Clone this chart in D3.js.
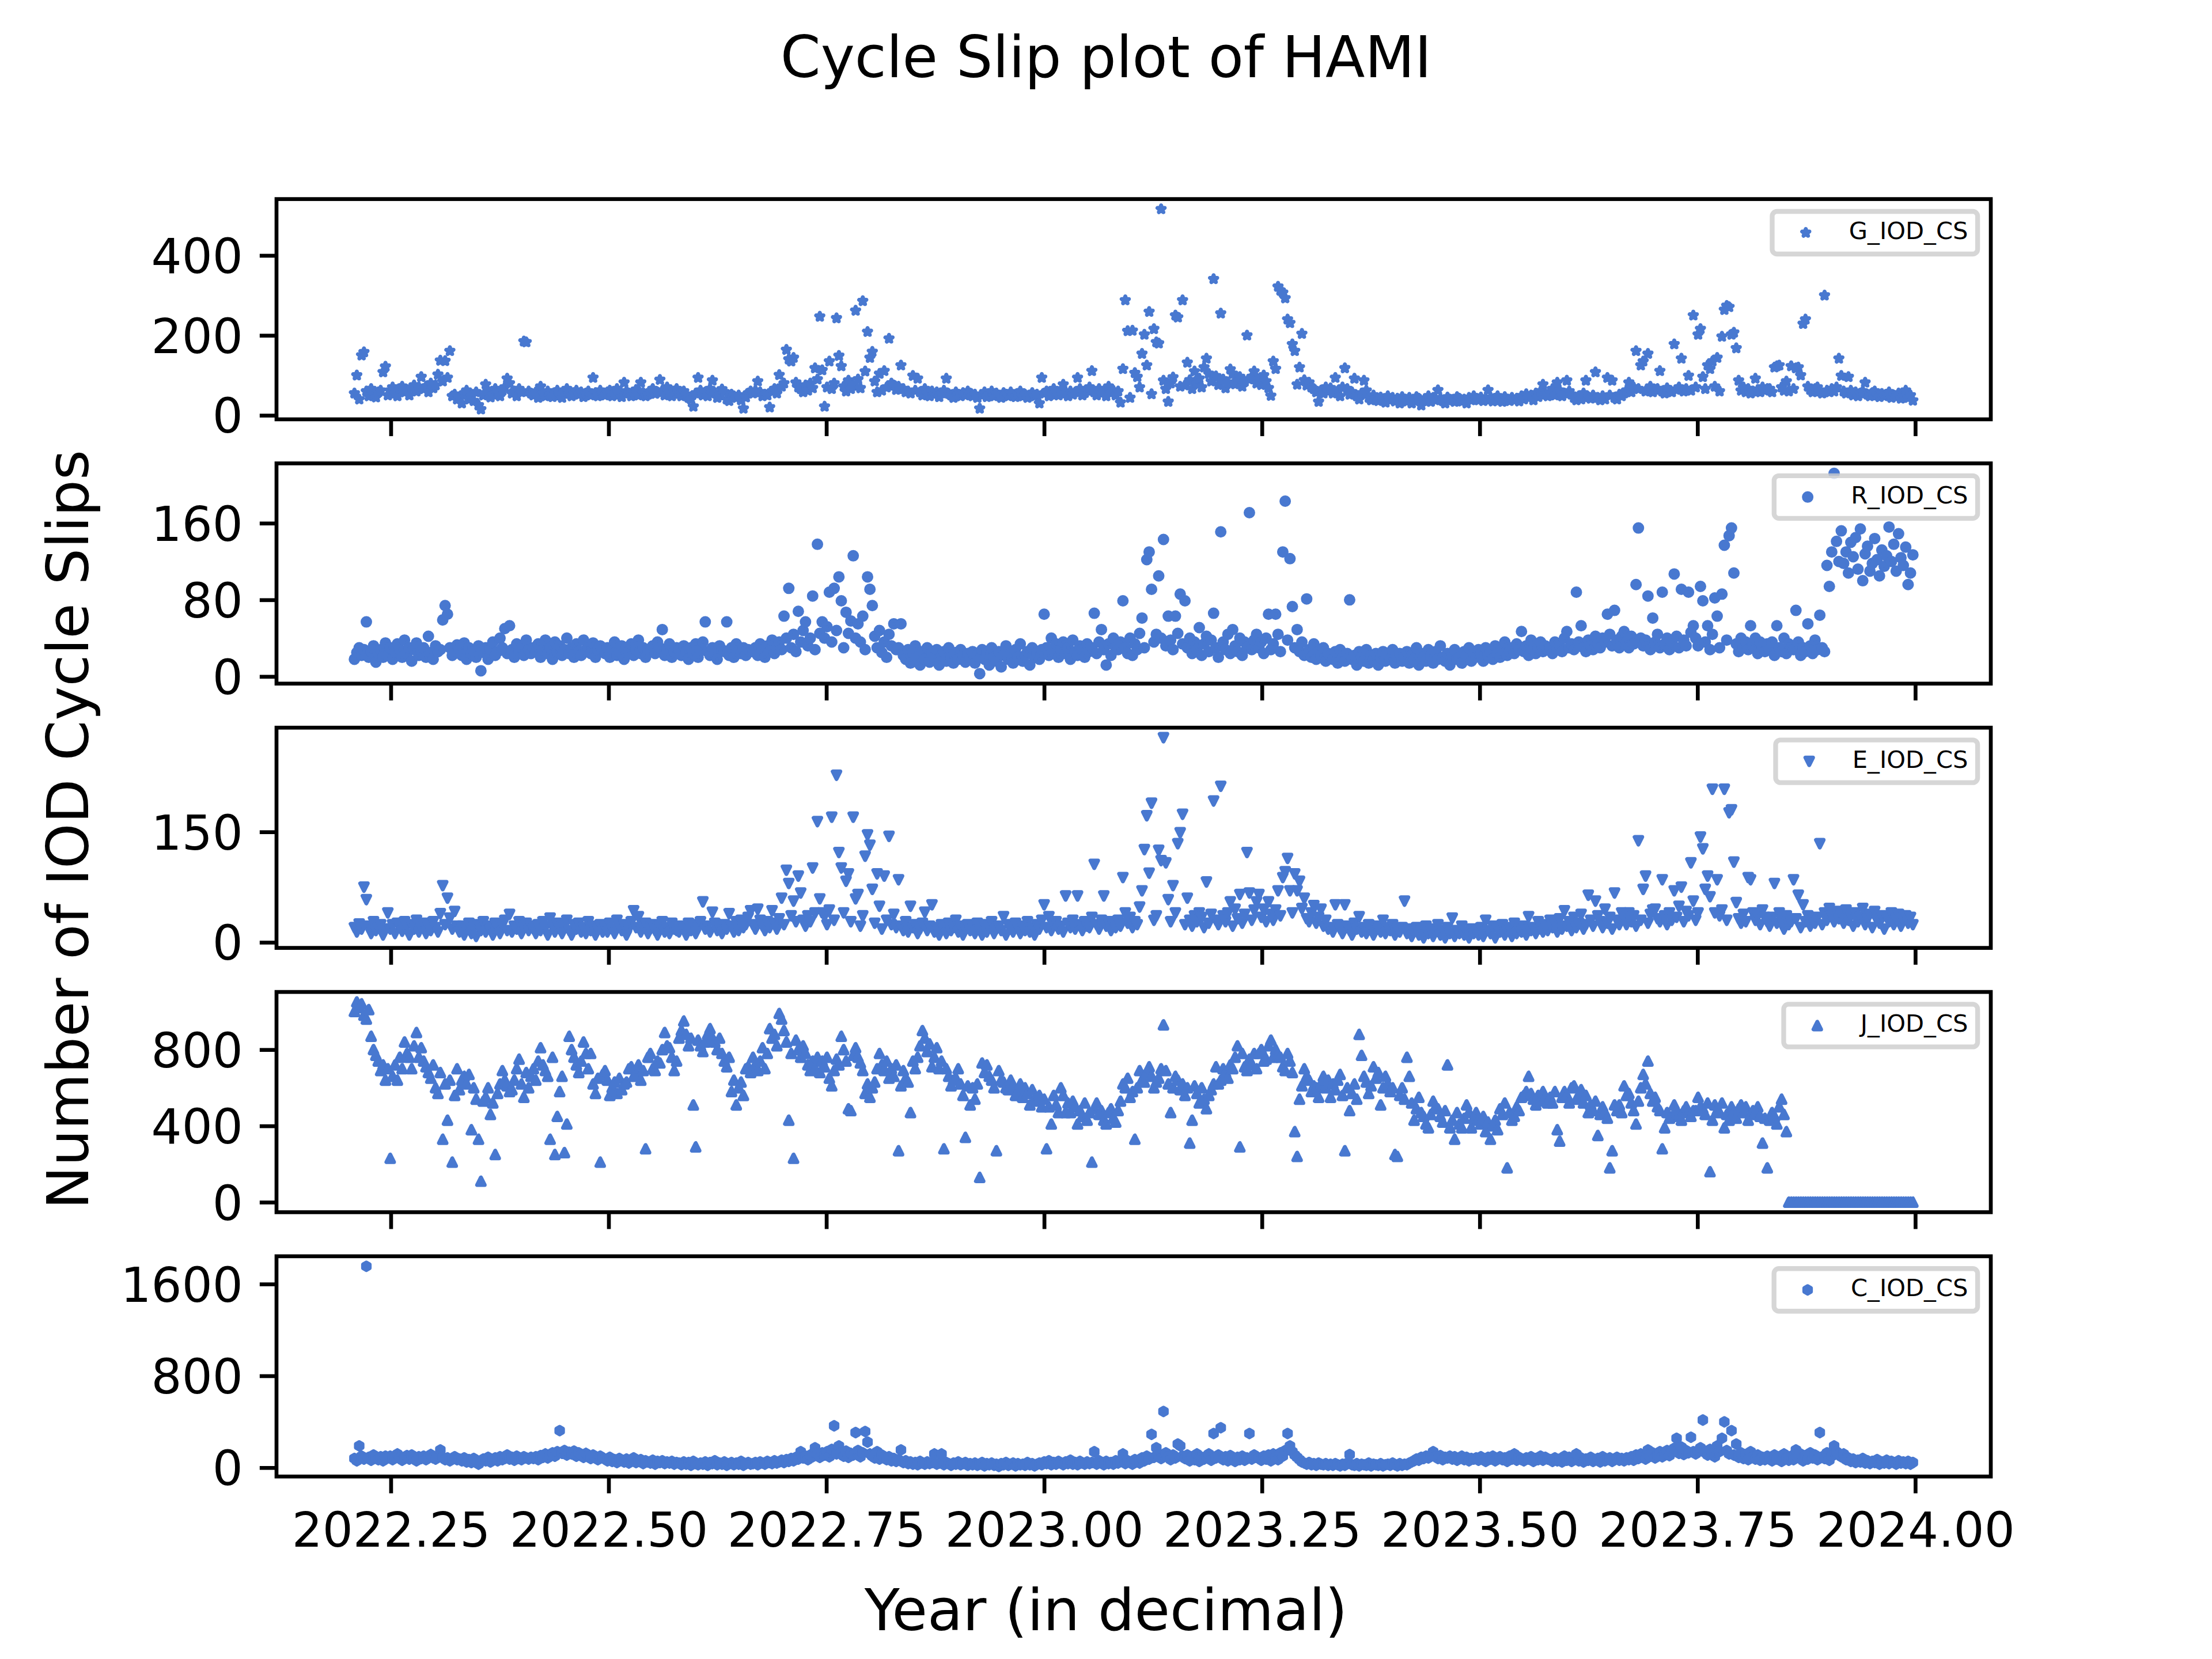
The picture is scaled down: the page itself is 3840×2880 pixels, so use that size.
<!DOCTYPE html>
<html>
<head>
<meta charset="utf-8">
<script src="https://cdn.jsdelivr.net/npm/d3@7"></script>
<style>
  html, body { margin: 0; padding: 0; background: #fff; }
  svg { display: block; }
  text { font-family: "DejaVu Sans", sans-serif; fill: #000; }
</style>
</head>
<body>
<svg id="chart" width="3840" height="2880"></svg>
<script>
// daily IOD cycle slip counts at HAMI, one value per day from startDate
var startDate = "2022-03-18";
var nDays = 654;

var xTicks = [2022.25, 2022.5, 2022.75, 2023.0, 2023.25, 2023.5, 2023.75, 2024.0];

var gValues = [
  55, 100, 40, 150, 158, 60, 48, 66, 52, 45, 58, 62, 108, 122,
  50, 62, 70, 55, 48, 66, 72, 58, 64, 50, 68, 75, 60, 70, 96, 66, 72, 58, 80, 68, 75, 102, 137, 85, 136, 94, 161, 48, 52, 40,
  44, 30, 55, 62, 40, 48, 36, 58, 25, 15, 50, 77, 60, 45, 52, 66, 58, 48, 62, 70, 92, 80, 55, 60, 48, 66, 58, 185, 183, 60, 55,
  50, 58, 44, 72, 55, 48, 60, 52, 46, 56, 62, 50, 44, 58, 66, 54, 48, 56, 62, 52, 58, 46, 55, 60, 50, 94, 56, 48, 62, 54,
  50, 58, 62, 48, 55, 66, 52, 46, 82, 60, 55, 48, 58, 64, 50, 82, 56, 48, 52, 60, 66, 54, 58, 89, 62, 50, 70, 56, 48, 60, 66,
  54, 48, 60, 52, 44, 40, 22, 55, 94, 62, 50, 58, 48, 66, 87, 56, 44, 50, 65, 58, 40, 36, 52, 48, 44, 50, 38, 17, 45, 55, 60,
  55, 62, 85, 58, 48, 52, 50, 20, 60, 66, 55, 101, 72, 80, 164, 140, 135, 144, 82, 70, 66, 58, 75, 62, 80, 68, 118, 90, 247, 113,
  22, 70, 135, 66, 80, 243, 149, 123, 72, 60, 87, 66, 74, 262, 90, 68, 286, 110, 209, 144, 159, 85, 58, 104, 62, 111, 70, 192, 80, 75, 64,
  72, 125, 66, 58, 60, 55, 99, 62, 92, 58, 50, 66, 55, 48, 60, 52, 58, 46, 55, 62, 92, 54, 50, 44, 58, 52, 48, 56, 50, 60,
  55, 48, 52, 44, 17, 50, 58, 46, 52, 60, 48, 55, 50, 44, 56, 52, 48, 58, 50, 46, 54, 60, 48, 52, 44, 50, 56, 48, 52, 30, 94,
  55, 60, 48, 52, 66, 58, 50, 62, 77, 55, 48, 60, 52, 58, 94, 66, 50, 56, 62, 70, 111, 58, 50, 66, 55, 60, 48, 72, 56, 62, 50,
  60, 32, 116, 288, 211, 44, 212, 106, 96, 70, 154, 202, 125, 259, 53, 216, 183, 180, 516, 87, 66, 34, 80, 95, 250, 245, 72, 288,
  75, 132, 88, 66, 110, 80, 92, 70, 120, 142, 104, 85, 341, 98, 76, 255, 90, 68, 82, 115, 104, 78, 88, 96, 72, 84, 200, 90, 96, 110, 80,
  90, 76, 100, 85, 68, 49, 135, 116, 322, 312, 307, 293, 240, 231, 178, 161, 77, 120, 204, 88, 75, 82, 70, 66, 58, 34, 62, 55, 70, 60,
  68, 55, 94, 60, 48, 70, 118, 66, 52, 58, 92, 48, 40, 55, 87, 62, 44, 38, 50, 42, 36, 45, 40, 32, 48, 38, 44, 35, 42, 30, 46,
  40, 35, 44, 30, 38, 46, 42, 25, 36, 40, 48, 34, 44, 38, 63, 42, 36, 30, 45, 40, 38, 34, 46, 42, 35, 40, 30, 44, 38, 48,
  42, 38, 45, 36, 40, 63, 44, 35, 42, 48, 38, 34, 46, 40, 36, 44, 38, 42, 35, 48, 40, 53, 44, 50, 38, 55, 46, 60, 77, 52, 48,
  58, 66, 50, 82, 62, 48, 55, 87, 60, 52, 44, 38, 48, 40, 55, 87, 46, 42, 50, 108, 44, 38, 48, 40, 94, 50, 87, 44, 40, 52, 48,
  55, 62, 82, 58, 70, 161, 66, 125, 135, 60, 154, 72, 58, 64, 66, 111, 60, 55, 68, 62, 58, 178, 64, 70, 142, 60, 66, 99, 62, 250,
  70, 202, 216, 96, 66, 125, 116, 135, 72, 144, 60, 197, 264, 274, 271, 202, 207, 168, 87, 62, 70, 58, 66, 55, 60, 92, 64, 58, 70, 62, 66,
  66, 58, 120, 123, 125, 70, 62, 85, 60, 123, 66, 118, 120, 100, 229, 240, 72, 64, 58, 66, 70, 60, 55, 300, 62, 58, 66, 60, 70, 142,
  99, 60, 55, 96, 62, 50, 58, 48, 55, 60, 82, 52, 48, 56, 60, 50, 46, 54, 48, 52, 58, 44, 50, 46, 55, 42, 48, 62, 44, 50, 37
];

var rValues = [
  18, 25, 30, 22, 28, 57, 20, 26, 32, 15, 24, 28, 20, 35,
  22, 30, 18, 26, 34, 28, 20, 38, 24, 30, 16, 28, 35, 22, 26, 30, 20, 42, 25, 18, 32, 26, 28, 59, 74, 65, 30, 22, 27, 33,
  28, 22, 35, 18, 30, 24, 26, 20, 32, 6, 25, 30, 18, 28, 36, 22, 26, 40, 30, 50, 24, 53, 28, 20, 34, 26, 30, 22, 38, 28, 24,
  30, 26, 34, 20, 28, 38, 24, 30, 18, 36, 26, 32, 22, 28, 40, 24, 30, 20, 34, 26, 22, 38, 28, 30, 24, 35, 20, 28, 32, 26,
  24, 30, 20, 28, 36, 22, 26, 32, 18, 30, 26, 34, 22, 28, 38, 24, 30, 20, 28, 26, 32, 24, 36, 30, 49, 22, 28, 34, 20, 26, 30,
  28, 22, 32, 26, 18, 30, 24, 34, 20, 28, 36, 57, 26, 22, 30, 24, 18, 32, 28, 26, 57, 22, 30, 20, 34, 26, 24, 30, 22, 28, 26,
  26, 30, 22, 34, 28, 20, 32, 26, 38, 24, 30, 36, 28, 63, 40, 92, 30, 44, 26, 68, 36, 48, 57, 32, 40, 84, 28, 138, 45, 57,
  40, 52, 88, 36, 92, 48, 104, 79, 30, 67, 45, 58, 126, 40, 55, 36, 63, 28, 104, 91, 74, 42, 30, 48, 25, 36, 20, 44, 32, 55, 28,
  30, 55, 22, 18, 28, 14, 25, 32, 20, 12, 26, 18, 30, 15, 24, 20, 28, 12, 22, 26, 16, 30, 20, 14, 25, 18, 28, 22, 15, 24,
  20, 26, 14, 22, 3, 28, 18, 24, 12, 30, 20, 16, 26, 10, 22, 32, 18, 24, 14, 28, 20, 34, 16, 22, 26, 12, 30, 20, 24, 18, 28,
  65, 30, 22, 40, 26, 34, 20, 28, 36, 24, 30, 18, 38, 26, 22, 32, 28, 20, 34, 26, 30, 66, 24, 36, 49, 28, 12, 34, 22, 40, 30,
  28, 36, 79, 30, 24, 40, 22, 34, 28, 45, 61, 30, 122, 130, 91, 36, 44, 105, 40, 143, 32, 63, 38, 28, 63, 45, 86, 34,
  79, 30, 40, 24, 36, 28, 51, 22, 34, 42, 26, 38, 66, 30, 20, 151, 36, 28, 44, 24, 49, 32, 26, 40, 22, 36, 30, 171, 28, 38, 44,
  30, 36, 24, 40, 65, 28, 34, 65, 44, 26, 130, 183, 38, 123, 73, 30, 49, 26, 36, 22, 81, 28, 20, 34, 18, 26, 22, 30, 16, 24,
  22, 18, 26, 14, 28, 20, 16, 24, 80, 18, 22, 12, 26, 20, 16, 28, 14, 22, 18, 24, 12, 20, 26, 16, 22, 18, 28, 14, 20, 24, 16,
  20, 26, 14, 22, 18, 30, 12, 24, 20, 16, 28, 22, 14, 26, 18, 32, 20, 16, 24, 12, 22, 28, 18, 20, 14, 26, 22, 30, 16, 24,
  20, 28, 24, 16, 30, 22, 26, 18, 32, 24, 20, 28, 36, 22, 26, 30, 24, 34, 28, 47, 26, 32, 22, 38, 28, 24, 30, 36, 26, 32, 28,
  30, 24, 36, 28, 32, 26, 40, 47, 30, 34, 28, 88, 36, 53, 30, 26, 38, 32, 28, 42, 34, 30, 40, 36, 65, 44, 32, 69, 38, 30, 42,
  47, 36, 30, 42, 34, 96, 155, 40, 32, 38, 84, 28, 61, 36, 44, 30, 88, 34, 40, 28, 36, 107, 42, 30, 91, 38, 32, 88, 46, 53,
  40, 32, 94, 79, 36, 53, 28, 44, 82, 63, 30, 86, 137, 38, 147, 155, 108, 34, 26, 40, 30, 36, 28, 53, 32, 40, 24, 36, 30, 26, 34,
  28, 36, 22, 53, 30, 26, 40, 24, 34, 30, 28, 69, 36, 22, 30, 26, 55, 32, 24, 38, 28, 64, 30, 26, 116, 94, 130, 212, 141, 120,
  152, 118, 130, 108, 140, 125, 145, 112, 154, 100, 128, 136, 110, 118, 144, 122, 105, 132, 115, 126, 156, 120, 138, 110, 149, 124, 116, 135, 96, 108, 127
];

var eValues = [
  20, 14, 25, 18, 75, 58, 22, 12, 28, 16, 20, 24, 10, 18,
  40, 18, 24, 12, 26, 20, 15, 28, 22, 10, 24, 18, 30, 14, 20, 26, 12, 22, 16, 28, 20, 14, 39, 77, 24, 60, 33, 18, 42, 22,
  14, 22, 10, 18, 26, 12, 20, 8, 24, 16, 28, 14, 22, 18, 10, 26, 20, 12, 24, 30, 16, 38, 14, 22, 18, 28, 12, 20, 26, 16, 22,
  18, 12, 24, 16, 28, 20, 10, 33, 22, 14, 26, 18, 12, 22, 30, 16, 10, 24, 18, 26, 14, 20, 12, 28, 16, 22, 10, 18, 24, 14,
  20, 14, 26, 18, 12, 30, 22, 16, 24, 10, 18, 28, 43, 20, 35, 14, 22, 26, 12, 18, 24, 16, 10, 22, 28, 14, 20, 12, 26, 18, 16,
  14, 22, 18, 10, 26, 16, 24, 12, 20, 28, 55, 18, 22, 14, 41, 26, 16, 20, 12, 24, 18, 39, 22, 14, 28, 16, 30, 20, 24, 34, 43,
  24, 18, 45, 30, 22, 16, 28, 20, 43, 26, 18, 32, 60, 24, 98, 80, 36, 56, 28, 90, 67, 30, 22, 36, 28, 101, 40, 164, 59, 40,
  36, 24, 44, 170, 30, 227, 122, 101, 40, 83, 93, 28, 170, 59, 65, 22, 36, 117, 146, 132, 72, 26, 93, 49, 18, 90, 30, 144, 24, 38, 20,
  85, 22, 16, 28, 14, 49, 20, 24, 12, 18, 26, 41, 16, 22, 51, 14, 20, 10, 24, 18, 12, 26, 16, 20, 30, 14, 22, 10, 18, 24,
  16, 22, 12, 26, 18, 10, 24, 14, 20, 28, 12, 18, 22, 16, 35, 10, 24, 18, 14, 26, 20, 12, 22, 16, 28, 14, 20, 10, 24, 18, 30,
  51, 20, 35, 16, 24, 28, 18, 22, 14, 63, 26, 20, 30, 18, 63, 24, 16, 28, 22, 20, 34, 106, 24, 18, 30, 63, 22, 28, 16, 24, 20,
  30, 22, 88, 40, 26, 34, 20, 28, 24, 48, 70, 126, 172, 94, 189, 30, 36, 125, 111, 278, 108, 58, 28, 77, 40, 134, 149, 174,
  24, 60, 30, 22, 36, 28, 40, 34, 20, 82, 26, 38, 192, 30, 24, 212, 36, 28, 40, 55, 22, 45, 32, 65, 26, 38, 122, 67, 30, 44, 55,
  65, 34, 45, 28, 55, 38, 30, 44, 70, 36, 88, 96, 114, 70, 40, 93, 70, 83, 46, 60, 32, 28, 40, 50, 26, 34, 45, 22, 30, 18,
  20, 14, 51, 24, 18, 12, 51, 22, 16, 10, 26, 18, 35, 14, 20, 12, 24, 16, 10, 22, 18, 14, 30, 12, 20, 16, 24, 10, 18, 14, 20,
  56, 12, 18, 8, 14, 20, 10, 16, 6, 22, 12, 18, 8, 14, 24, 10, 16, 6, 20, 12, 33, 8, 16, 12, 22, 10, 14, 6, 18, 12,
  14, 10, 20, 8, 30, 16, 12, 22, 6, 18, 14, 24, 10, 16, 20, 8, 26, 12, 18, 14, 22, 10, 35, 16, 20, 12, 28, 18, 14, 24, 16,
  30, 20, 26, 14, 32, 18, 43, 22, 28, 16, 34, 20, 26, 38, 18, 24, 64, 30, 22, 56, 36, 28, 20, 45, 26, 34, 18, 67, 30, 24, 40,
  34, 24, 40, 28, 36, 22, 138, 30, 72, 90, 26, 38, 44, 45, 32, 28, 85, 36, 24, 40, 30, 70, 34, 49, 75, 28, 42, 36, 108, 56,
  30, 40, 143, 127, 72, 90, 62, 208, 40, 85, 36, 44, 208, 30, 176, 180, 109, 54, 32, 26, 38, 28, 88, 85, 40, 30, 36, 24, 44, 34, 28,
  22, 34, 80, 26, 40, 30, 18, 36, 24, 28, 85, 32, 64, 20, 51, 28, 36, 22, 30, 26, 34, 134, 24, 40, 30, 46, 36, 28, 42, 32,
  38, 26, 44, 30, 36, 22, 40, 28, 34, 46, 24, 32, 38, 20, 42, 30, 26, 36, 18, 34, 28, 40, 24, 32, 38, 22, 30, 36, 26, 34, 24
];

var jValues = [
  1000, 1050, 1020, 1040, 980, 960, 1010, 870, 800, 770, 740, 690, 720, 640,
  700, 230, 660, 720, 640, 760, 700, 840, 780, 760, 700, 820, 890, 760, 810, 740, 710, 680, 650, 720, 600, 570, 680, 330, 620, 430, 640, 210, 560, 700,
  590, 640, 660, 620, 670, 380, 600, 540, 330, 110, 530, 550, 600, 460, 520, 250, 570, 620, 690, 640, 610, 580, 590, 640, 700, 750, 620, 550, 680, 600, 660,
  700, 640, 740, 810, 720, 690, 660, 330, 760, 250, 450, 580, 660, 260, 410, 870, 800, 760, 720, 680, 740, 840, 780, 700, 780, 620, 570, 650, 210, 670,
  690, 640, 560, 600, 630, 570, 650, 590, 620, 630, 700, 710, 660, 680, 720, 640, 690, 280, 760, 780, 700, 690, 740, 730, 800, 890, 820, 810, 760, 690, 740,
  860, 900, 950, 880, 820, 860, 510, 290, 850, 820, 790, 840, 880, 910, 860, 840, 800, 860, 780, 740, 710, 760, 580, 640, 510, 600, 630, 560, 700, 710, 680,
  760, 720, 690, 740, 810, 700, 780, 910, 860, 880, 820, 990, 960, 900, 840, 430, 780, 230, 850, 800, 760, 820, 780, 720, 690, 740, 700, 760, 680, 740,
  710, 760, 650, 610, 690, 750, 720, 870, 800, 740, 490, 480, 770, 810, 760, 730, 690, 570, 620, 550, 600, 630, 700, 780, 720, 690, 740, 650, 700, 660, 720,
  270, 610, 690, 650, 630, 470, 740, 700, 760, 820, 900, 860, 790, 830, 710, 760, 810, 700, 740, 280, 700, 660, 610, 640, 650, 700, 620, 560, 340, 610,
  510, 600, 540, 620, 130, 730, 680, 720, 660, 640, 600, 270, 690, 640, 630, 600, 590, 640, 610, 560, 580, 620, 550, 600, 570, 510, 590, 540, 530, 560, 500,
  540, 280, 500, 410, 560, 510, 470, 600, 560, 470, 520, 470, 530, 500, 410, 480, 450, 520, 430, 470, 210, 490, 520, 460, 480, 430, 410, 470, 490, 440, 420,
  480, 530, 620, 600, 650, 550, 580, 330, 600, 690, 640, 630, 680, 710, 660, 600, 630, 650, 700, 930, 690, 620, 470, 600, 660, 640, 590, 620,
  560, 600, 310, 430, 610, 570, 520, 600, 540, 490, 560, 590, 620, 710, 620, 640, 700, 680, 650, 720, 700, 760, 820, 290, 780, 710, 690, 750, 720, 780, 700,
  780, 800, 740, 750, 820, 850, 760, 800, 770, 760, 710, 690, 780, 740, 680, 370, 240, 540, 610, 700, 660, 640, 580, 610, 600, 550, 620, 660, 600, 640,
  550, 620, 590, 640, 670, 560, 270, 600, 480, 570, 620, 540, 880, 770, 660, 630, 570, 610, 710, 650, 680, 510, 600, 660, 620, 580, 600, 250, 240, 560, 600,
  540, 760, 660, 520, 430, 490, 550, 470, 450, 410, 390, 460, 530, 500, 490, 450, 420, 480, 720, 390, 430, 330, 470, 410, 390, 440, 510, 470, 390, 440,
  470, 430, 410, 450, 370, 420, 330, 400, 430, 380, 490, 460, 520, 180, 470, 430, 450, 500, 480, 550, 560, 580, 660, 570, 540, 510, 560, 530, 580, 550, 520,
  550, 520, 580, 380, 320, 550, 580, 560, 520, 600, 610, 540, 550, 590, 520, 560, 470, 510, 480, 530, 350, 460, 500, 470, 440, 180, 270, 510, 480, 510, 470,
  610, 560, 570, 520, 480, 410, 530, 600, 670, 620, 740, 570, 530, 550, 500, 480, 280, 390, 470, 440, 450, 510, 480, 460, 430, 480, 500, 470, 450, 480,
  480, 550, 500, 490, 460, 520, 160, 430, 510, 480, 470, 520, 390, 460, 430, 500, 470, 440, 490, 510, 470, 500, 430, 460, 480, 470, 500, 450, 310, 440, 180,
  430, 470, 450, 410, 500, 540, 460, 370, 0, 0, 0, 0, 0, 0, 0, 0, 0, 0, 0, 0, 0, 0, 0, 0, 0, 0, 0, 0, 0, 0,
  0, 0, 0, 0, 0, 0, 0, 0, 0, 0, 0, 0, 0, 0, 0, 0, 0, 0, 0, 0, 0, 0, 0, 0, 0, 0, 0, 0, 0, 0, 0
];

var cValues = [
  80, 60, 190, 100, 75, 1755, 90, 65, 110, 85, 70, 95, 60, 100,
  85, 100, 70, 95, 120, 80, 65, 90, 105, 75, 110, 85, 60, 95, 80, 100, 70, 90, 115, 85, 75, 100, 155, 90, 70, 85, 60, 80, 95, 70,
  75, 60, 85, 50, 70, 45, 80, 65, 30, 55, 75, 60, 90, 50, 70, 85, 60, 95, 70, 80, 110, 75, 90, 65, 100, 80, 70, 95, 85, 75, 90,
  80, 95, 70, 105, 90, 120, 85, 110, 130, 100, 140, 323, 125, 150, 110, 135, 120, 145, 100, 130, 115, 90, 125, 105, 80, 110, 95, 70, 100, 85,
  75, 60, 90, 55, 70, 45, 80, 65, 50, 75, 40, 60, 85, 45, 55, 70, 35, 60, 50, 40, 65, 30, 55, 45, 60, 35, 50, 40, 55, 30, 45,
  40, 25, 50, 30, 45, 20, 55, 35, 25, 40, 30, 50, 20, 45, 35, 60, 25, 40, 30, 50, 20, 35, 45, 25, 40, 30, 55, 20, 35, 45, 30,
  35, 45, 25, 50, 40, 30, 55, 45, 35, 60, 40, 50, 65, 45, 70, 55, 80, 60, 90, 75, 139, 85, 100, 70, 110, 95, 173, 120, 90, 130,
  110, 140, 95, 160, 365, 120, 190, 130, 100, 145, 90, 125, 110, 306, 150, 95, 130, 315, 223, 120, 100, 85, 140, 75, 110, 90, 70, 95, 60, 80, 55,
  70, 155, 45, 60, 35, 50, 30, 45, 25, 55, 40, 30, 50, 35, 45, 120, 30, 40, 120, 25, 45, 35, 20, 40, 30, 50, 25, 35, 45, 20,
  35, 25, 40, 20, 30, 45, 15, 35, 25, 40, 20, 30, 10, 35, 25, 45, 20, 30, 40, 15, 35, 25, 30, 20, 45, 25, 35, 15, 30, 40, 25,
  50, 35, 60, 25, 45, 30, 55, 40, 25, 50, 35, 65, 30, 45, 25, 55, 40, 30, 50, 35, 45, 139, 30, 60, 40, 25, 55, 35, 45, 30, 60,
  40, 55, 120, 35, 60, 45, 30, 70, 50, 40, 85, 60, 100, 75, 290, 90, 173, 110, 80, 490, 130, 95, 70, 110, 85, 206, 190, 100,
  80, 110, 60, 95, 70, 120, 55, 90, 75, 100, 120, 65, 298, 85, 110, 348, 70, 95, 60, 105, 80, 55, 90, 70, 100, 65, 85, 298, 75, 110, 90,
  85, 65, 100, 75, 110, 60, 120, 90, 70, 130, 100, 150, 298, 190, 140, 110, 90, 70, 50, 40, 30, 45, 25, 35, 20, 40, 30, 25, 35, 20,
  30, 20, 35, 25, 15, 30, 20, 40, 114, 25, 20, 35, 15, 30, 25, 20, 40, 15, 30, 25, 20, 35, 15, 25, 30, 20, 40, 25, 15, 35, 20,
  30, 25, 40, 50, 60, 75, 65, 90, 80, 100, 85, 110, 139, 95, 80, 105, 70, 90, 85, 100, 75, 95, 65, 85, 100, 70, 90, 60, 80, 75,
  85, 65, 95, 70, 55, 90, 75, 100, 60, 80, 95, 70, 85, 55, 100, 75, 120, 65, 90, 70, 60, 85, 75, 95, 55, 80, 70, 100, 65, 90, 75,
  70, 55, 85, 60, 75, 50, 100, 65, 90, 55, 80, 120, 60, 85, 50, 75, 65, 90, 55, 70, 80, 50, 95, 60, 75, 85, 55, 70, 90, 65, 80,
  60, 85, 70, 95, 65, 110, 80, 120, 90, 75, 155, 100, 130, 85, 110, 140, 95, 120, 150, 105, 135, 170, 256, 125, 180, 115, 150, 130, 265, 140,
  120, 150, 173, 415, 130, 110, 160, 125, 95, 190, 140, 256, 399, 150, 120, 323, 110, 206, 90, 130, 80, 115, 70, 139, 95, 75, 110, 65, 90, 70, 100,
  85, 60, 110, 75, 95, 55, 120, 80, 65, 100, 70, 155, 90, 120, 60, 105, 75, 130, 85, 110, 70, 306, 95, 80, 130, 65, 100, 190, 140, 120,
  95, 120, 70, 85, 55, 75, 45, 65, 50, 80, 40, 60, 35, 55, 45, 70, 30, 50, 40, 65, 35, 55, 45, 30, 60, 40, 50, 35, 55, 30, 45
];

var panels = [
  {label: "G_IOD_CS", values: gValues, ticks: [0, 200, 400], marker: "star"},
  {label: "R_IOD_CS", values: rValues, ticks: [0, 80, 160], marker: "circle"},
  {label: "E_IOD_CS", values: eValues, ticks: [0, 150], marker: "triangleDown"},
  {label: "J_IOD_CS", values: jValues, ticks: [0, 400, 800], marker: "triangleUp"},
  {label: "C_IOD_CS", values: cValues, ticks: [0, 800, 1600], marker: "hexagon"}
];

var W = 3840, H = 2880;
var pt = 600 / 72;
var margin = {left: 480, right: 3456, top: 345.6, bottom: 2563.2};
var panelH = (margin.bottom - margin.top) / 5.8;
var gap = panelH * 0.2;
var color = "#4878d0";
var tickLen = 3.5 * pt, tickPad = 3.5 * pt, lineW = 0.8 * pt;
var tickFont = 10 * pt, labelFont = 12 * pt, legendFont = 5 * pt;
var markerR = 6.5, markerEdge = 7;

function polygon(n, r, inner) {
  var pts = [];
  var k = inner ? 2 * n : n;
  for (var i = 0; i < k; i++) {
    var rr = inner && i % 2 ? r * inner : r;
    var a = -Math.PI / 2 + i * 2 * Math.PI / k;
    pts.push([rr * Math.cos(a), rr * Math.sin(a)]);
  }
  return "M" + pts.map(function(p) { return p[0].toFixed(2) + "," + p[1].toFixed(2); }).join("L") + "Z";
}

var r = markerR;
var markerPaths = {
  star: polygon(5, r, 0.381966),
  circle: d3.symbol(d3.symbolCircle, Math.PI * r * r)(),
  triangleDown: "M0," + r + "L" + (-r) + "," + (-r) + "L" + r + "," + (-r) + "Z",
  triangleUp: "M0," + (-r) + "L" + (-r) + "," + r + "L" + r + "," + r + "Z",
  hexagon: polygon(6, r)
};

function padded(ext) {
  var m = (ext[1] - ext[0]) * 0.05;
  return [ext[0] - m, ext[1] + m];
}

var day0 = d3.timeParse("%Y-%m-%d")(startDate);
function decimalYear(d) {
  var y0 = d3.timeYear.floor(d);
  var len = d3.timeDay.count(y0, d3.timeYear.offset(y0, 1));
  return d.getFullYear() + d3.timeDay.count(y0, d) / len;
}
var years = d3.range(nDays).map(function(i) { return decimalYear(d3.timeDay.offset(day0, i)); });

var svg = d3.select("#chart");
svg.append("rect").attr("width", W).attr("height", H).attr("fill", "#fff");

var x = d3.scaleLinear()
    .domain(padded(d3.extent(years)))
    .range([margin.left, margin.right]);

panels.forEach(function(p, i) {
  var top = margin.top + i * (panelH + gap);
  var bottom = top + panelH;
  var y = d3.scaleLinear()
      .domain(padded(d3.extent(p.values)))
      .range([bottom, top]);

  svg.append("clipPath").attr("id", "clip" + i)
    .append("rect")
      .attr("x", margin.left).attr("y", top)
      .attr("width", margin.right - margin.left).attr("height", panelH);

  svg.append("g")
      .attr("clip-path", "url(#clip" + i + ")")
    .selectAll("path")
    .data(p.values)
    .join("path")
      .attr("transform", function(d, j) { return "translate(" + x(years[j]).toFixed(2) + "," + y(d).toFixed(2) + ")"; })
      .attr("d", markerPaths[p.marker])
      .attr("fill", color)
      .attr("stroke", color)
      .attr("stroke-width", markerEdge)
      .attr("stroke-linejoin", "round");

  var yAxis = svg.append("g")
      .attr("transform", "translate(" + margin.left + ",0)")
      .call(d3.axisLeft(y).tickValues(p.ticks).tickFormat(d3.format("d"))
        .tickSize(tickLen).tickSizeOuter(0).tickPadding(tickPad));

  var xAxis = svg.append("g")
      .attr("transform", "translate(0," + bottom + ")")
      .call(d3.axisBottom(x).tickValues(xTicks).tickSize(tickLen).tickSizeOuter(0).tickPadding(tickPad)
        .tickFormat(i === panels.length - 1 ? d3.format(".2f") : ""));

  [yAxis, xAxis].forEach(function(a) {
    a.select(".domain").remove();
    a.selectAll(".tick line").attr("stroke", "#000").attr("stroke-width", lineW);
    a.selectAll(".tick text")
        .attr("fill", "#000")
        .style("font-family", "'DejaVu Sans', sans-serif")
        .style("font-size", tickFont + "px");
  });
  yAxis.selectAll(".tick text").attr("dy", "0.36em");
  xAxis.selectAll(".tick text").attr("dy", "0.76em");

  svg.append("rect")
      .attr("x", margin.left).attr("y", top)
      .attr("width", margin.right - margin.left).attr("height", panelH)
      .attr("fill", "none")
      .attr("stroke", "#000")
      .attr("stroke-width", lineW);

  // legend, upper right
  var lg = svg.append("g");
  var boxRight = margin.right - 22.9;
  var boxTop = top + 21.4;
  var frame = lg.append("rect");
  var label = lg.append("text")
      .attr("x", boxRight - 0.4 * legendFont)
      .attr("y", top + 69.4)
      .attr("text-anchor", "end")
      .style("font-size", legendFont + "px")
      .text(p.label);
  var textStart = boxRight - 0.4 * legendFont - label.node().getComputedTextLength();
  var handleX = textStart - 0.8 * legendFont - legendFont;
  var boxLeft = handleX - legendFont - 0.4 * legendFont;
  frame
      .attr("x", boxLeft).attr("y", boxTop)
      .attr("width", boxRight - boxLeft).attr("height", 74)
      .attr("rx", 0.2 * legendFont)
      .attr("fill", "#fff").attr("fill-opacity", 0.8)
      .attr("stroke", "#cccccc").attr("stroke-opacity", 0.8)
      .attr("stroke-width", pt);
  lg.append("path")
      .attr("transform", "translate(" + handleX + "," + (boxTop + 37) + ")")
      .attr("d", markerPaths[p.marker])
      .attr("fill", color)
      .attr("stroke", color)
      .attr("stroke-width", markerEdge)
      .attr("stroke-linejoin", "round");
});

svg.append("text")
    .attr("x", W / 2).attr("y", 134)
    .attr("text-anchor", "middle")
    .style("font-size", labelFont + "px")
    .text("Cycle Slip plot of HAMI");

svg.append("text")
    .attr("x", W / 2).attr("y", 2830)
    .attr("text-anchor", "middle")
    .style("font-size", labelFont + "px")
    .text("Year (in decimal)");

svg.append("text")
    .attr("transform", "translate(153," + H / 2 + ") rotate(-90)")
    .attr("text-anchor", "middle")
    .style("font-size", labelFont + "px")
    .text("Number of IOD Cycle Slips");

var bad = panels.filter(function(p) { return p.values.length !== nDays; });
if (bad.length) {
  throw new Error("length mismatch: " + bad.map(function(p) { return p.label + "=" + p.values.length; }).join(", "));
}
</script>
</body>
</html>
